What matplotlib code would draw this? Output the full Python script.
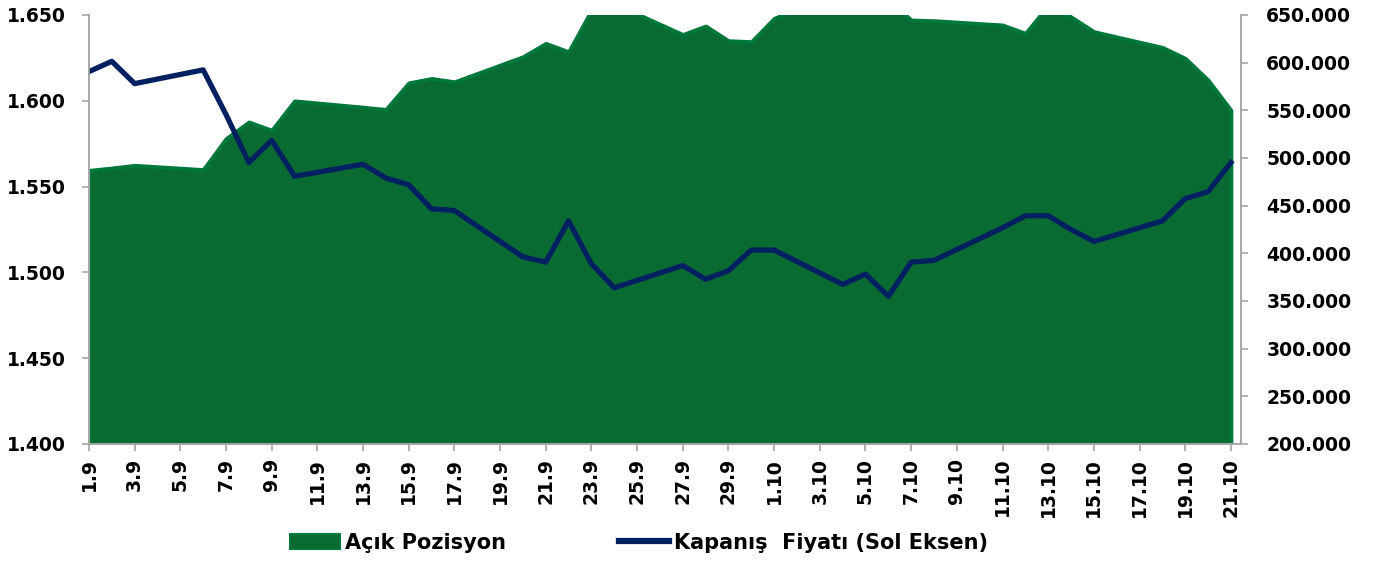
import matplotlib
matplotlib.use("Agg")
import matplotlib.pyplot as plt
from matplotlib.ticker import FuncFormatter, MultipleLocator
from matplotlib.patches import Patch
from matplotlib.lines import Line2D

plt.rcParams['font.family'] = ['DejaVu Sans']
plt.rcParams['font.weight'] = 'bold'

dates = ['1.9', '2.9', '3.9', '4.9', '5.9', '6.9', '7.9', '8.9', '9.9', '10.9',
         '11.9', '12.9', '13.9', '14.9', '15.9', '16.9', '17.9', '18.9', '19.9', '20.9',
         '21.9', '22.9', '23.9', '24.9', '25.9', '26.9', '27.9', '28.9', '29.9', '30.9',
         '1.10', '2.10', '3.10', '4.10', '5.10', '6.10', '7.10', '8.10', '9.10', '10.10',
         '11.10', '12.10', '13.10', '14.10', '15.10', '16.10', '17.10', '18.10', '19.10', '20.10',
         '21.10']

# closing price (left axis), None = no trading that day
price = [1.617, 1.623, 1.610, None, None, 1.618, 1.592, 1.564, 1.577, 1.556,
         None, None, 1.563, 1.555, 1.551, 1.537, 1.536, None, None, 1.509,
         1.506, 1.530, 1.505, 1.491, None, None, 1.504, 1.496, 1.501, 1.513,
         1.513, None, None, 1.493, 1.499, 1.486, 1.506, 1.507, None, None,
         1.526, 1.533, 1.533, 1.525, 1.518, None, None, 1.530, 1.543, 1.547,
         1.564]

# open interest (right axis)
open_pos = [487000, 489500, 492300, None, None, 487800, 520300, 537800, 529100, 559900,
            None, None, 553300, 550900, 578800, 583400, 579900, None, None, 606200,
            620200, 611400, 655000, 662000, None, None, 629500, 638400, 623000, 622000,
            646500, None, None, 677000, 672000, 666000, 644700, 644000, None, None,
            639500, 630800, 660000, 648000, 632500, None, None, 616000, 604500, 581700,
            550100]

fill_col = '#0A6B32'
edge_col = '#00773B'
line_col = '#002060'
grey = '#A6A6A6'

xi = [i for i, v in enumerate(price) if v is not None]
p = [price[i] for i in xi]
oi = [open_pos[i] for i in xi]

fig = plt.figure(figsize=(13.73, 5.63), dpi=100)
ax = fig.add_axes([0.0648, 0.2114, 0.904 - 0.0648, 0.9734 - 0.2114])
ax2 = ax.twinx()

ax2.fill_between(xi, 200000, oi, facecolor=fill_col, edgecolor=edge_col, linewidth=2.8)
ax.plot(xi, p, color=line_col, linewidth=3.8)

ax.set_zorder(ax2.get_zorder() + 1)
ax.patch.set_visible(False)

ax.set_xlim(0, 50.45)
ax.set_ylim(1.400, 1.650)
ax2.set_ylim(200000, 650000)
ax.yaxis.set_major_locator(MultipleLocator(0.05))
ax2.yaxis.set_major_locator(MultipleLocator(50000))
ax.yaxis.set_major_formatter(FuncFormatter(lambda v, _: f"{v:.3f}"))
ax2.yaxis.set_major_formatter(FuncFormatter(lambda v, _: f"{v / 1000:.0f}.000"))

ax.set_xticks(range(0, len(dates), 2))
ax.set_xticklabels(dates[::2], rotation=90)

for a in (ax, ax2):
    for s in a.spines.values():
        s.set_color(grey)
        s.set_linewidth(1.2)
    a.spines['top'].set_visible(False)
    a.tick_params(colors=grey, labelcolor='black', length=5, width=1.2, labelsize=13.5)
ax.tick_params(axis='y', pad=12)
ax2.tick_params(axis='y', pad=13)
ax.tick_params(axis='x', pad=5)

handles = [Patch(facecolor=fill_col, edgecolor=edge_col, linewidth=1.5),
           Line2D([], [], color=line_col, linewidth=4.5)]
fig.legend(handles, ['Açık Pozisyon', 'Kapanış  Fiyatı (Sol Eksen)'],
           loc='center', bbox_to_anchor=(0.4654, 0.036), ncol=2, frameon=False,
           fontsize=15, handlelength=2.4, handletextpad=0.25, columnspacing=5.4)

fig.savefig('out.png', dpi=100)
